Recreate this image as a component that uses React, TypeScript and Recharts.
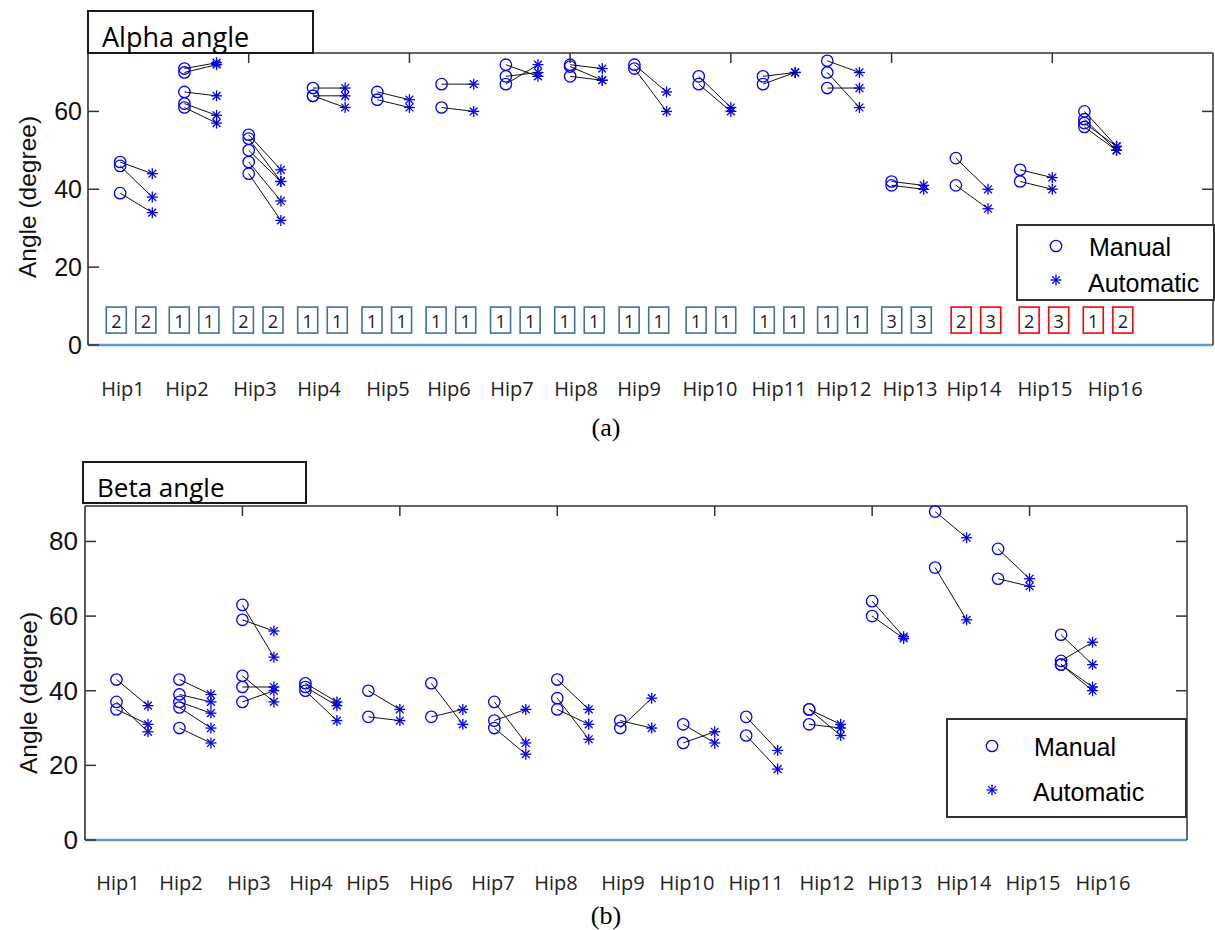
import React from 'react';
import { ScatterChart, Scatter, XAxis, YAxis } from 'recharts';

// ---------------- data ----------------
const hipNames = ['Hip1', 'Hip2', 'Hip3', 'Hip4', 'Hip5', 'Hip6', 'Hip7', 'Hip8', 'Hip9', 'Hip10', 'Hip11', 'Hip12', 'Hip13', 'Hip14', 'Hip15', 'Hip16'];

// Alpha angle: manual value i of each hip is paired with automatic value i
const alphaManual: number[][] = [
  [47, 46, 39],
  [71, 70, 65, 62, 61],
  [54, 53, 50, 47, 44],
  [66, 64, 64],
  [65, 63],
  [67, 61],
  [72, 69, 67],
  [72, 71.5, 69],
  [72, 71],
  [69, 67],
  [69, 67],
  [73, 70, 66],
  [42, 41],
  [48, 41],
  [45, 42],
  [60, 58, 57, 56],
];
const alphaAuto: number[][] = [
  [44, 38, 34],
  [72.5, 72, 64, 59, 57],
  [45, 42, 42, 37, 32],
  [66, 64, 61],
  [63, 61],
  [67, 60],
  [69, 70, 72],
  [71, 68, 68],
  [65, 60],
  [61, 60],
  [70, 70],
  [70, 61, 66],
  [41, 40],
  [40, 35],
  [43, 40],
  [51, 50, 51, 50],
];
const alphaBoxLabels: string[][] = [
  ['2', '2'], ['1', '1'], ['2', '2'], ['1', '1'], ['1', '1'], ['1', '1'], ['1', '1'], ['1', '1'],
  ['1', '1'], ['1', '1'], ['1', '1'], ['1', '1'], ['3', '3'], ['2', '3'], ['2', '3'], ['1', '2'],
];
const alphaBoxFlag: boolean[] = [false, false, false, false, false, false, false, false, false, false, false, false, false, true, true, true];
const alphaYTicks = [0, 20, 40, 60];

// Beta angle
const betaManual: number[][] = [
  [43, 37, 35],
  [43, 39, 37, 35.5, 30],
  [63, 59, 44, 41, 37],
  [42, 41, 40],
  [40, 33],
  [42, 33],
  [37, 32, 30],
  [43, 38, 35],
  [32, 30],
  [31, 26],
  [33, 28],
  [35, 35, 31],
  [64, 60],
  [88, 73],
  [78, 70],
  [55, 48, 47, 47],
];
const betaAuto: number[][] = [
  [36, 29, 31],
  [39, 37, 34, 30, 26],
  [49, 56, 37, 41, 40],
  [37, 36, 32],
  [35, 32],
  [31, 35],
  [26, 35, 23],
  [35, 27, 31],
  [30, 38],
  [26, 29],
  [24, 19],
  [31, 28, 30],
  [54.5, 54],
  [81, 59],
  [70, 68],
  [47, 53, 41, 40],
];
const betaYTicks = [0, 20, 40, 60, 80];

// ---------------- layout constants (x in axis units) ----------------
const alphaLabelX = [0.218, 0.616, 1.039, 1.437, 1.867, 2.246, 2.638, 3.037, 3.429, 3.87, 4.3, 4.704, 5.115, 5.513, 5.955, 6.391];
const betaLabelX = [0.21, 0.61, 1.042, 1.436, 1.798, 2.198, 2.592, 2.992, 3.417, 3.824, 4.262, 4.713, 5.145, 5.583, 6.022, 6.466];
const alphaBoxX = [0.268, 0.66, 1.059, 1.459, 1.859, 2.258, 2.659, 3.058, 3.459, 3.876, 4.3, 4.694, 5.093, 5.525, 5.948, 6.347];
const BOX_HALF_GAP = 0.092;
const BOX_Y = 6.4;
const TOP_TICKS = [1, 2, 3, 4, 5, 6];

const SANS = "'Liberation Sans', Arial, sans-serif";
const HIPFONT = "'Open Sans', 'Noto Sans', sans-serif";
const BLUE = '#0000ff';

const manualX = (k: number) => 0.4 * k + 0.2;
const autoX = (k: number) => 0.4 * k + 0.4;

// ---------------- shapes ----------------
const CircleMark = (props: any) => {
  const { cx, cy } = props;
  if (cx == null || cy == null) return <g />;
  return <circle cx={cx} cy={cy} r={5.7} fill="none" stroke={BLUE} strokeWidth={1.3} />;
};
const StarMark = (props: any) => {
  const { cx, cy } = props;
  if (cx == null || cy == null) return <g />;
  const r = 5.5;
  const d = 3.9;
  return (
    <g stroke={BLUE} strokeWidth={1.3}>
      <line x1={cx - r} x2={cx + r} y1={cy} y2={cy} />
      <line x1={cx} x2={cx} y1={cy - r} y2={cy + r} />
      <line x1={cx - d} y1={cy - d} x2={cx + d} y2={cy + d} />
      <line x1={cx - d} y1={cy + d} x2={cx + d} y2={cy - d} />
    </g>
  );
};
const NoMark = () => <g />;
const BoxMark = (props: any) => {
  const { cx, cy, payload } = props;
  if (cx == null || cy == null) return <g />;
  const col = payload.flag ? '#ff0000' : '#41719c';
  return (
    <g>
      <rect x={cx - 10} y={cy - 13} width={20} height={26} fill="#fff" stroke={col} strokeWidth={1.6} />
      <text x={cx} y={cy + 1} textAnchor="middle" dominantBaseline="central" fontSize={18} fontFamily={HIPFONT} fill="#222">
        {payload.label}
      </text>
    </g>
  );
};

// ---------------- ticks ----------------
const makeLeftTick = (fontSize: number, gap: number) => (props: any) => {
  const { x, y, payload } = props;
  return (
    <g>
      <line x1={x} x2={x + 11} y1={y} y2={y} stroke="#333" strokeWidth={1.5} />
      <text x={x - gap} y={y} textAnchor="end" dominantBaseline="central" fontSize={fontSize} fontFamily={SANS} fill="#111">
        {payload.value}
      </text>
    </g>
  );
};
const makeBottomTick = (positions: number[], dy: number) => (props: any) => {
  const { x, y, payload, index } = props;
  let i = positions.indexOf(payload.value);
  if (i < 0) i = index;
  return (
    <text x={x} y={y + dy} textAnchor="middle" dominantBaseline="central" fontSize={20} fontFamily={HIPFONT} fill="#222">
      {hipNames[i]}
    </text>
  );
};
const TopTick = (props: any) => {
  const { x, y } = props;
  return <line x1={x} x2={x} y1={y} y2={y + 10} stroke="#333" strokeWidth={1.5} />;
};
const RightTick = (props: any) => {
  const { x, y } = props;
  return <line x1={x} x2={x - 11} y1={y} y2={y} stroke="#333" strokeWidth={1.5} />;
};

// ---------------- panel ----------------
type PanelProps = {
  manual: number[][];
  auto: number[][];
  labelX: number[];
  yMax: number;
  yTicks: number[];
  rightTicks: number[];
  height: number;
  margin: { top: number; right: number; bottom: number; left: number };
  leftW: number;
  xAxisH: number;
  hipDy: number;
  tickFont: number;
  tickGap: number;
  boxes?: { x: number; y: number; label: string; flag: boolean }[];
};

function Panel(p: PanelProps) {
  const manualPts = p.manual.flatMap((ms, k) => ms.map((m) => ({ x: manualX(k), y: m })));
  const autoPts = p.auto.flatMap((as, k) => as.map((a) => ({ x: autoX(k), y: a })));
  const pairs = p.manual.flatMap((ms, k) =>
    ms.map((m, j) => [
      { x: manualX(k), y: m },
      { x: autoX(k), y: p.auto[k][j] },
    ])
  );
  return (
    <ScatterChart width={1215} height={p.height} margin={p.margin}>
      <XAxis
        xAxisId={0}
        type="number"
        dataKey="x"
        domain={[0, 7]}
        ticks={p.labelX}
        interval={0}
        tickSize={0}
        tickMargin={0}
        tickLine={false}
        height={p.xAxisH}
        axisLine={{ stroke: '#5b9bd5', strokeWidth: 2.5 }}
        tick={makeBottomTick(p.labelX, p.hipDy)}
      />
      <XAxis
        xAxisId="top"
        orientation="top"
        type="number"
        dataKey="x"
        domain={[0, 7]}
        ticks={TOP_TICKS}
        interval={0}
        tickSize={0}
        tickMargin={0}
        tickLine={false}
        height={1}
        axisLine={{ stroke: '#333', strokeWidth: 1.5 }}
        tick={TopTick}
      />
      <YAxis
        yAxisId={0}
        type="number"
        dataKey="y"
        domain={[0, p.yMax]}
        ticks={p.yTicks}
        interval={0}
        tickSize={0}
        tickMargin={0}
        tickLine={false}
        width={p.leftW}
        axisLine={{ stroke: '#222', strokeWidth: 1.5 }}
        tick={makeLeftTick(p.tickFont, p.tickGap)}
      />
      <YAxis
        yAxisId="r"
        orientation="right"
        type="number"
        dataKey="y"
        domain={[0, p.yMax]}
        ticks={p.rightTicks}
        interval={0}
        tickSize={0}
        tickMargin={0}
        tickLine={false}
        width={2}
        axisLine={{ stroke: '#333', strokeWidth: 1.5 }}
        tick={RightTick}
      />
      {/* invisible series that binds the frame axes (top / right) to the data */}
      <Scatter data={manualPts} xAxisId="top" yAxisId="r" shape={NoMark} isAnimationActive={false} />
      {p.boxes && (
        <Scatter data={p.boxes} shape={BoxMark} isAnimationActive={false} />
      )}
      <Scatter data={manualPts} shape={CircleMark} isAnimationActive={false} />
      <Scatter data={autoPts} shape={StarMark} isAnimationActive={false} />
      {pairs.map((pr, i) => (
        <Scatter
          key={i}
          data={pr}
          shape={NoMark}
          line={{ stroke: '#111', strokeWidth: 1 }}
          lineType="joint"
          isAnimationActive={false}
        />
      ))}
    </ScatterChart>
  );
}

export default function App() {
  const boxes = alphaBoxLabels.flatMap((lbls, k) =>
    lbls.map((l, j) => ({
      x: alphaBoxX[k] + (j === 0 ? -BOX_HALF_GAP : BOX_HALF_GAP),
      y: BOX_Y,
      label: l,
      flag: alphaBoxFlag[k],
    }))
  );
  return (
    <div style={{ position: 'absolute', left: 0, top: 0, width: 1215, height: 930, background: '#fff' }}>
      <div style={{ position: 'absolute', left: 0, top: 0 }}>
        <Panel
          manual={alphaManual}
          auto={alphaAuto}
          labelX={alphaLabelX}
          yMax={75}
          yTicks={alphaYTicks}
          rightTicks={[20, 40, 60]}
          height={420}
          margin={{ top: 52, right: 0, bottom: 20, left: 0 }}
          leftW={88}
          xAxisH={55}
          hipDy={43}
          tickFont={25}
          tickGap={6}
          boxes={boxes}
        />
      </div>
      <div style={{ position: 'absolute', left: 0, top: 440 }}>
        <Panel
          manual={betaManual}
          auto={betaAuto}
          labelX={betaLabelX}
          yMax={89.5}
          yTicks={betaYTicks}
          rightTicks={[20, 40, 60, 80]}
          height={490}
          margin={{ top: 65, right: 26, bottom: 30, left: 0 }}
          leftW={85}
          xAxisH={60}
          hipDy={42}
          tickFont={26}
          tickGap={7}
        />
      </div>
      <svg width={1215} height={930} style={{ position: 'absolute', left: 0, top: 0, pointerEvents: 'none' }}>
        {/* panel a title */}
        <rect x={88} y={11} width={225} height={42} fill="#fff" stroke="#1a1a1a" strokeWidth={2} />
        <text x={102} y={46.5} fontSize={27} fontFamily={HIPFONT} fill="#000">Alpha angle</text>
        {/* panel b title */}
        <rect x={83} y={462} width={223} height={41} fill="#fff" stroke="#1a1a1a" strokeWidth={2} />
        <text x={97} y={496.5} fontSize={26} fontFamily={HIPFONT} fill="#000">Beta angle</text>
        {/* y labels */}
        <text x={27} y={197} transform="rotate(-90 27 197)" textAnchor="middle" dominantBaseline="central" fontSize={24.5} fontFamily={SANS} fill="#111">Angle (degree)</text>
        <text x={28} y={693} transform="rotate(-90 28 693)" textAnchor="middle" dominantBaseline="central" fontSize={24.5} fontFamily={SANS} fill="#111">Angle (degree)</text>
        {/* legend a */}
        <rect x={1017} y={225} width={197} height={75} fill="#fff" stroke="#333" strokeWidth={2} />
        <CircleMark cx={1056} cy={246} />
        <StarMark cx={1056} cy={280} />
        <text x={1089} y={247} dominantBaseline="central" fontSize={25} fontFamily={SANS} fill="#000">Manual</text>
        <text x={1088} y={283} dominantBaseline="central" fontSize={25} fontFamily={SANS} fill="#000">Automatic</text>
        {/* legend b */}
        <rect x={947} y={719} width={239} height={98} fill="#fff" stroke="#333" strokeWidth={2} />
        <CircleMark cx={992} cy={746} />
        <StarMark cx={992} cy={790} />
        <text x={1034} y={747} dominantBaseline="central" fontSize={25} fontFamily={SANS} fill="#000">Manual</text>
        <text x={1033} y={792} dominantBaseline="central" fontSize={25} fontFamily={SANS} fill="#000">Automatic</text>
        {/* captions */}
        <text x={606} y={427} textAnchor="middle" dominantBaseline="central" fontSize={26} fontFamily="'Liberation Serif', 'Times New Roman', serif" fill="#000">(a)</text>
        <text x={606} y={915} textAnchor="middle" dominantBaseline="central" fontSize={26} fontFamily="'Liberation Serif', 'Times New Roman', serif" fill="#000">(b)</text>
      </svg>
    </div>
  );
}
